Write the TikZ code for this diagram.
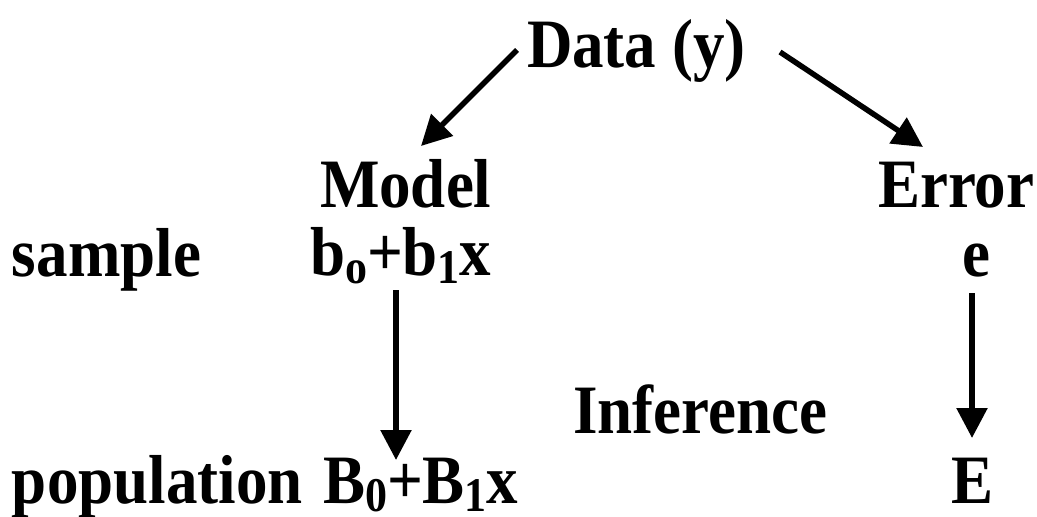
\documentclass[tikz,border=0pt]{standalone}
\usepackage{fontspec}
\setmainfont{Liberation Serif}
\usetikzlibrary{arrows.meta}
\newcommand{\bigtxt}[1]{\scalebox{1}[1.1]{\fontsize{63}{70}\selectfont\bfseries #1}}
\newcommand{\sbs}[1]{\raisebox{-8pt}{\fontsize{44}{46}\selectfont #1}}
\begin{document}
\begin{tikzpicture}[x=1pt,y=-1pt,
  lbl/.style={anchor=base west,inner sep=0pt,outer sep=0pt},
  arr/.style={line width=5.5pt,-{Triangle[length=30pt,width=30pt]}}]
\useasboundingbox (0,0) rectangle (1037,517);
\node[lbl] (data) at (527,67) {\bigtxt{Data (y)}};
\node[lbl] (model) at (320,207) {\bigtxt{Model}};
\node[lbl] (error) at (878,207) {\bigtxt{Error}};
\node[lbl] (sample) at (12,276) {\bigtxt{sample}};
\node[lbl] (bsamp) at (310,275) {\bigtxt{b\sbs{o}+b\sbs{1}x}};
\node[lbl] (esamp) at (962,276) {\bigtxt{e}};
\node[lbl] (inference) at (573,433) {\bigtxt{Inference}};
\node[lbl] (population) at (12,503) {\bigtxt{population}};
\node[lbl] (Bpop) at (323,503) {\bigtxt{B\sbs{0}+B\sbs{1}x}};
\node[lbl] (Epop) at (951,503) {\bigtxt{E}};
\draw[arr] ([shift={(-10,-17)}]data.base west) -- ([shift={(101,-61)}]model.base west);
\draw[arr] ([shift={(253,-15)}]data.base west) -- ([shift={(45,-60)}]error.base west);
\draw[arr] ([shift={(86,15)}]bsamp.base west) -- ([shift={(73,-43)}]Bpop.base west);
\draw[arr] ([shift={(10,17)}]esamp.base west) -- ([shift={(21,-65)}]Epop.base west);
\end{tikzpicture}
\end{document}
